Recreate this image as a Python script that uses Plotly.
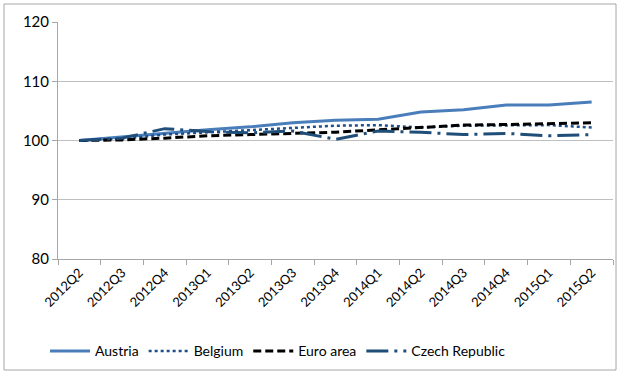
import plotly.graph_objects as go

quarters = ["2012Q2", "2012Q3", "2012Q4", "2013Q1", "2013Q2", "2013Q3", "2013Q4",
            "2014Q1", "2014Q2", "2014Q3", "2014Q4", "2015Q1", "2015Q2"]
austria = [100.0, 100.6, 101.3, 101.8, 102.3, 103.0, 103.4, 103.6, 104.8, 105.2, 106.0, 106.0, 106.5]
belgium = [100.0, 100.3, 101.0, 101.4, 101.7, 102.1, 102.5, 102.6, 102.2, 102.5, 102.6, 102.6, 102.2]
euro_area = [100.0, 100.1, 100.4, 100.8, 101.0, 101.2, 101.4, 101.8, 102.2, 102.6, 102.7, 102.9, 103.0]
czech = [100.0, 100.4, 102.0, 101.5, 101.3, 101.6, 100.2, 101.6, 101.4, 101.0, 101.2, 100.8, 101.0]

W, H = 620, 374
L, R, T, B = 58, 7, 22, 115

fig = go.Figure()
fig.add_trace(go.Scatter(x=quarters, y=austria, name="Austria", mode="lines",
                         line=dict(color="#4A7EBB", width=3)))
fig.add_trace(go.Scatter(x=quarters, y=belgium, name="Belgium", mode="lines",
                         line=dict(color="#1F4E8C", width=2.5, dash="dot")))
fig.add_trace(go.Scatter(x=quarters, y=euro_area, name="Euro area", mode="lines",
                         line=dict(color="#000000", width=3, dash="8px,4px")))
fig.add_trace(go.Scatter(x=quarters, y=czech, name="Czech Republic", mode="lines",
                         line=dict(color="#1F4E79", width=3, dash="22px,6px,3px,6px")))

pw = W - L - R
ph = H - T - B
fig.add_shape(type="rect", xref="paper", yref="paper",
              x0=(4 - L) / pw, x1=(W - 4 - L) / pw,
              y0=(H - 4 - T) / ph * -1 + 1, y1=1 + (T - 4) / ph,
              line=dict(color="#A6A6A6", width=1), fillcolor="rgba(0,0,0,0)", layer="below")

fig.update_layout(
    width=W, height=H,
    margin=dict(l=L, r=R, t=T, b=B),
    paper_bgcolor="white", plot_bgcolor="white",
    font=dict(family="Lato, Open Sans, sans-serif", color="#000000", size=13),
    showlegend=True,
    legend=dict(orientation="h", x=(45 - L) / pw, xanchor="left", y=-0.39, yanchor="middle",
                font=dict(size=14), itemwidth=40),
    xaxis=dict(type="category", tickangle=-45, tickson="boundaries", ticks="outside",
               ticklen=5, tickcolor="#A6A6A6", showline=True, linecolor="#A6A6A6",
               showgrid=False, tickfont=dict(size=13), range=[-0.5, 12.5]),
    yaxis=dict(range=[80, 120], dtick=10, ticks="outside", ticklen=5, tickcolor="#A6A6A6",
               showline=True, linecolor="#A6A6A6", gridcolor="#BFBFBF", gridwidth=1,
               tickfont=dict(size=15), zeroline=False),
)

fig.write_html("out.html")
